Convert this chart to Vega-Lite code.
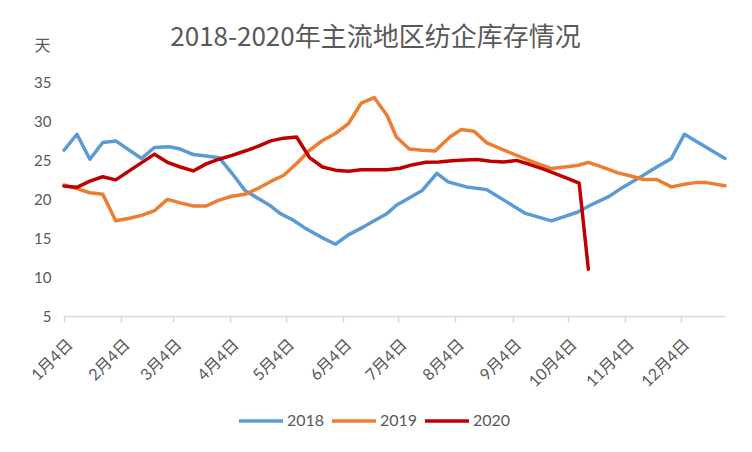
{
 "$schema": "https://vega.github.io/schema/vega-lite/v6.json",
 "width": 661, "height": 234,
 "autosize": {"type": "none"},
 "padding": {"left": 64, "top": 82, "right": 27, "bottom": 136},
 "background": "white",
 "title": {"text": "2018-2020年主流地区纺企库存情况", "font": "Noto Sans CJK SC", "fontSize": 26, "fontWeight": "normal", "color": "#595959", "anchor": "middle", "frame": "group", "dx": -19, "offset": -14},
 "config": {"view": {"stroke": null}},
 "data": {"values": [
  {"d":"2018-01-04","s":"2018","v":26.25},{"d":"2018-01-11","s":"2018","v":28.3},{"d":"2018-01-18","s":"2018","v":25.1},{"d":"2018-01-25","s":"2018","v":27.25},{"d":"2018-02-01","s":"2018","v":27.45},{"d":"2018-02-15","s":"2018","v":25.2},{"d":"2018-02-22","s":"2018","v":26.6},{"d":"2018-03-02","s":"2018","v":26.7},{"d":"2018-03-08","s":"2018","v":26.4},{"d":"2018-03-15","s":"2018","v":25.7},{"d":"2018-03-22","s":"2018","v":25.5},{"d":"2018-03-29","s":"2018","v":25.3},{"d":"2018-04-05","s":"2018","v":23.3},{"d":"2018-04-12","s":"2018","v":21.1},{"d":"2018-04-19","s":"2018","v":20.1},{"d":"2018-04-26","s":"2018","v":19.1},{"d":"2018-05-01","s":"2018","v":18.15},{"d":"2018-05-08","s":"2018","v":17.3},{"d":"2018-05-15","s":"2018","v":16.2},{"d":"2018-05-23","s":"2018","v":15.15},{"d":"2018-05-31","s":"2018","v":14.2},{"d":"2018-06-07","s":"2018","v":15.4},{"d":"2018-06-15","s":"2018","v":16.4},{"d":"2018-06-28","s":"2018","v":18.15},{"d":"2018-07-03","s":"2018","v":19.2},{"d":"2018-07-17","s":"2018","v":21.1},{"d":"2018-07-25","s":"2018","v":23.3},{"d":"2018-07-31","s":"2018","v":22.2},{"d":"2018-08-10","s":"2018","v":21.55},{"d":"2018-08-21","s":"2018","v":21.2},{"d":"2018-09-01","s":"2018","v":19.6},{"d":"2018-09-11","s":"2018","v":18.15},{"d":"2018-09-25","s":"2018","v":17.2},{"d":"2018-10-09","s":"2018","v":18.3},{"d":"2018-10-16","s":"2018","v":19.2},{"d":"2018-10-26","s":"2018","v":20.3},{"d":"2018-11-03","s":"2018","v":21.55},{"d":"2018-11-12","s":"2018","v":22.8},{"d":"2018-11-21","s":"2018","v":24.1},{"d":"2018-11-29","s":"2018","v":25.2},{"d":"2018-12-06","s":"2018","v":28.3},{"d":"2018-12-28","s":"2018","v":25.2},
  {"d":"2018-01-04","s":"2019","v":21.8},{"d":"2018-01-11","s":"2019","v":21.35},{"d":"2018-01-18","s":"2019","v":20.8},{"d":"2018-01-25","s":"2019","v":20.6},{"d":"2018-02-01","s":"2019","v":17.2},{"d":"2018-02-08","s":"2019","v":17.5},{"d":"2018-02-15","s":"2019","v":17.9},{"d":"2018-02-22","s":"2019","v":18.5},{"d":"2018-03-01","s":"2019","v":19.95},{"d":"2018-03-08","s":"2019","v":19.5},{"d":"2018-03-15","s":"2019","v":19.1},{"d":"2018-03-22","s":"2019","v":19.1},{"d":"2018-03-29","s":"2019","v":19.85},{"d":"2018-04-05","s":"2019","v":20.35},{"d":"2018-04-12","s":"2019","v":20.6},{"d":"2018-04-19","s":"2019","v":21.35},{"d":"2018-04-26","s":"2019","v":22.25},{"d":"2018-05-03","s":"2019","v":23.05},{"d":"2018-05-10","s":"2019","v":24.55},{"d":"2018-05-17","s":"2019","v":26.25},{"d":"2018-05-24","s":"2019","v":27.5},{"d":"2018-05-31","s":"2019","v":28.4},{"d":"2018-06-07","s":"2019","v":29.65},{"d":"2018-06-14","s":"2019","v":32.3},{"d":"2018-06-21","s":"2019","v":33.0},{"d":"2018-06-28","s":"2019","v":30.7},{"d":"2018-07-03","s":"2019","v":27.95},{"d":"2018-07-10","s":"2019","v":26.4},{"d":"2018-07-17","s":"2019","v":26.25},{"d":"2018-07-24","s":"2019","v":26.15},{"d":"2018-08-01","s":"2019","v":27.95},{"d":"2018-08-07","s":"2019","v":28.9},{"d":"2018-08-14","s":"2019","v":28.7},{"d":"2018-08-21","s":"2019","v":27.2},{"d":"2018-09-04","s":"2019","v":25.8},{"d":"2018-09-15","s":"2019","v":24.75},{"d":"2018-09-25","s":"2019","v":23.9},{"d":"2018-10-09","s":"2019","v":24.3},{"d":"2018-10-15","s":"2019","v":24.7},{"d":"2018-10-23","s":"2019","v":24.05},{"d":"2018-10-31","s":"2019","v":23.35},{"d":"2018-11-07","s":"2019","v":22.95},{"d":"2018-11-14","s":"2019","v":22.5},{"d":"2018-11-21","s":"2019","v":22.5},{"d":"2018-11-29","s":"2019","v":21.55},{"d":"2018-12-06","s":"2019","v":21.9},{"d":"2018-12-12","s":"2019","v":22.1},{"d":"2018-12-18","s":"2019","v":22.1},{"d":"2018-12-28","s":"2019","v":21.7},
  {"d":"2018-01-04","s":"2020","v":21.65},{"d":"2018-01-11","s":"2020","v":21.5},{"d":"2018-01-18","s":"2020","v":22.3},{"d":"2018-01-25","s":"2020","v":22.85},{"d":"2018-02-01","s":"2020","v":22.45},{"d":"2018-02-22","s":"2020","v":25.75},{"d":"2018-03-01","s":"2020","v":24.7},{"d":"2018-03-08","s":"2020","v":24.1},{"d":"2018-03-15","s":"2020","v":23.6},{"d":"2018-03-22","s":"2020","v":24.5},{"d":"2018-03-29","s":"2020","v":25.1},{"d":"2018-04-05","s":"2020","v":25.6},{"d":"2018-04-12","s":"2020","v":26.15},{"d":"2018-04-19","s":"2020","v":26.75},{"d":"2018-04-26","s":"2020","v":27.45},{"d":"2018-05-03","s":"2020","v":27.8},{"d":"2018-05-10","s":"2020","v":27.95},{"d":"2018-05-17","s":"2020","v":25.3},{"d":"2018-05-24","s":"2020","v":24.1},{"d":"2018-05-31","s":"2020","v":23.7},{"d":"2018-06-07","s":"2020","v":23.55},{"d":"2018-06-14","s":"2020","v":23.75},{"d":"2018-06-21","s":"2020","v":23.75},{"d":"2018-06-28","s":"2020","v":23.75},{"d":"2018-07-05","s":"2020","v":23.95},{"d":"2018-07-12","s":"2020","v":24.4},{"d":"2018-07-19","s":"2020","v":24.7},{"d":"2018-07-26","s":"2020","v":24.75},{"d":"2018-08-02","s":"2020","v":24.9},{"d":"2018-08-09","s":"2020","v":25.0},{"d":"2018-08-16","s":"2020","v":25.05},{"d":"2018-08-23","s":"2020","v":24.85},{"d":"2018-08-30","s":"2020","v":24.75},{"d":"2018-09-06","s":"2020","v":24.95},{"d":"2018-09-13","s":"2020","v":24.45},{"d":"2018-09-20","s":"2020","v":23.9},{"d":"2018-09-27","s":"2020","v":23.25},{"d":"2018-10-04","s":"2020","v":22.6},{"d":"2018-10-10","s":"2020","v":22.05},{"d":"2018-10-15","s":"2020","v":11.0}
 ]},
 "mark": {"type": "line", "strokeJoin": "round", "strokeCap": "round"},
 "encoding": {
  "x": {"field": "d", "type": "temporal",
   "scale": {"type": "utc", "domain": [{"year":2018,"month":1,"date":4,"utc":true},{"year":2018,"month":12,"date":28,"utc":true}]},
   "axis": {"title": null, "grid": false,
    "values": [{"year":2018,"month":1,"date":4,"utc":true},{"year":2018,"month":2,"date":4,"utc":true},{"year":2018,"month":3,"date":4,"utc":true},{"year":2018,"month":4,"date":4,"utc":true},{"year":2018,"month":5,"date":4,"utc":true},{"year":2018,"month":6,"date":4,"utc":true},{"year":2018,"month":7,"date":4,"utc":true},{"year":2018,"month":8,"date":4,"utc":true},{"year":2018,"month":9,"date":4,"utc":true},{"year":2018,"month":10,"date":4,"utc":true},{"year":2018,"month":11,"date":4,"utc":true},{"year":2018,"month":12,"date":4,"utc":true}],
    "labelExpr": "utcFormat(datum.value, '%-m月%-d日')", "labelAngle": -45, "labelFont": "Lato, 'Noto Sans CJK SC'", "labelFontSize": 16, "labelColor": "#595959", "labelOverlap": false, "labelBound": false, "labelFlush": false, "labelPadding": 14,
    "domainColor": "#D9D9D9", "domainWidth": 1.5, "tickColor": "#D9D9D9", "tickWidth": 1.5, "tickSize": 6}},
  "y": {"field": "v", "type": "quantitative",
   "scale": {"domain": [5, 35], "nice": false, "zero": false},
   "axis": {"values": [5,10,15,20,25,30,35], "domain": false, "ticks": false, "grid": false, "labelFont": "Lato", "labelFontSize": 15, "labelColor": "#595959", "labelPadding": 13,
    "title": "天", "titleAngle": 0, "titleX": -22, "titleY": -37, "titleAlign": "center", "titleBaseline": "middle", "titleFont": "Noto Sans CJK SC", "titleFontSize": 16, "titleFontWeight": "normal", "titleColor": "#595959"}},
  "color": {"field": "s", "type": "nominal",
   "scale": {"domain": ["2018","2019","2020"], "range": ["#5B9BD5","#ED7D31","#C00000"]},
   "legend": {"orient": "none", "legendX": 173, "legendY": 315, "direction": "horizontal", "title": null, "symbolType": "stroke", "symbolSize": 1936, "symbolStrokeWidth": 4, "labelFont": "Lato", "labelFontSize": 16, "labelColor": "#595959", "labelOffset": 2, "columnPadding": 0}},
  "strokeWidth": {"field": "s", "type": "ordinal", "scale": {"domain": ["2018","2019","2020"], "range": [3.5,3.5,4.5]}, "legend": null}
 }
}
